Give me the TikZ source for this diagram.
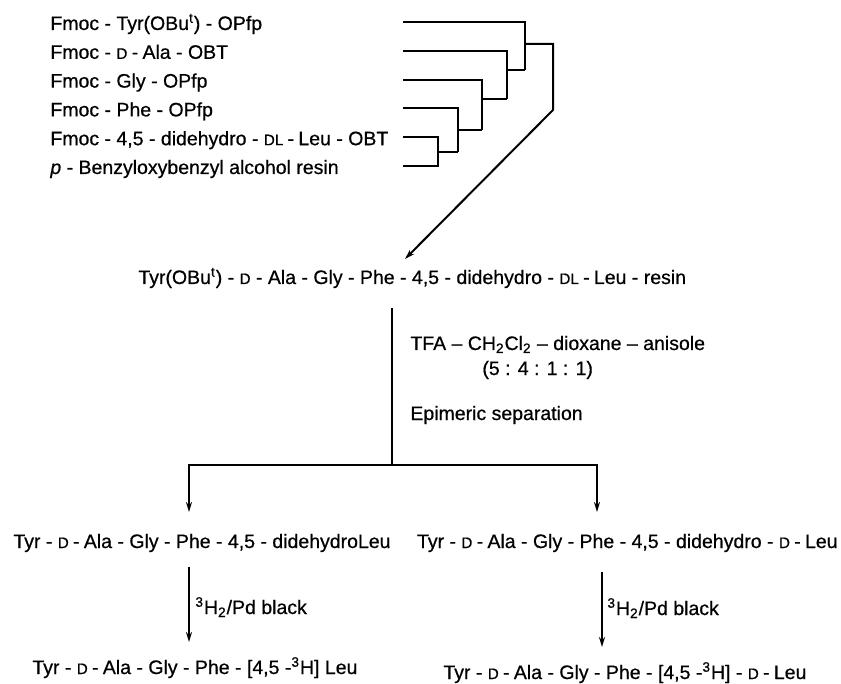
\documentclass[tikz,border=0pt]{standalone}
\usepackage{fontspec}
\setmainfont{Liberation Sans}[FakeBold=0.6]
\usetikzlibrary{arrows.meta}
\newcommand{\smc}[1]{{\fontsize{7.6}{9}\selectfont #1}}
\newcommand{\hy}{\hspace{0.22em}-\hspace{0.22em}}
\begin{document}
\begin{tikzpicture}[x=0.5pt,y=-0.5pt,
  font=\fontsize{9.75}{11}\selectfont,
  lbl/.style={inner sep=0pt, anchor=base west},
  lble/.style={inner sep=0pt, anchor=base east},
  ln/.style={line width=1pt},
  arr/.style={line width=1pt,-{Stealth[length=5pt,width=3pt]}}]
\useasboundingbox (0,0) rectangle (841,684);
% starting materials
\node[lbl] (r1) at (50,30) {Fmoc - Tyr(OBu\textsuperscript{t}) - OPfp};
\node[lbl] (r2) at (50,58.8) {Fmoc - \smc{D}\hy Ala - OBT};
\node[lbl] (r3) at (50,87.6) {Fmoc - Gly - OPfp};
\node[lbl] (r4) at (50,116.4) {Fmoc - Phe - OPfp};
\node[lbl] (r5) at (50,145.2) {Fmoc - 4,5 - didehydro - \smc{DL}\hy Leu - OBT};
\node[lbl] (r6) at (50,174) {\textit{p} - Benzyloxybenzyl alcohol resin};
\coordinate (s1) at (403,22);
\coordinate (s2) at (403,50.8);
\coordinate (s3) at (403,79.6);
\coordinate (s4) at (403,108.4);
\coordinate (s5) at (403,137.2);
\coordinate (s6) at (403,166);
\coordinate (j5) at (438,151.6);
\coordinate (j4) at (458,130);
\coordinate (j3) at (482,99);
\coordinate (j2) at (507,70);
\coordinate (j1) at (525,44);
\coordinate (k1) at (553,44);
\coordinate (k2) at (553,110);
\coordinate (tip) at (405,259);
\draw[ln] (s5) -| (j5) |- (s6);
\draw[ln] (j5) -- (j5 -| j4);
\draw[ln] (s4) -| (j4 |- j5);
\draw[ln] (j4) -- (j4 -| j3);
\draw[ln] (s3) -| (j3 |- j4);
\draw[ln] (j3) -- (j3 -| j2);
\draw[ln] (s2) -| (j2 |- j3);
\draw[ln] (j2) -- (j2 -| j1);
\draw[ln] (s1) -| (j1 |- j2);
\draw[arr] (j1) -- (k1) -- (k2) -- (tip);
% resin-bound peptide
\node[lbl] (resin) at (138,284) {Tyr(OBu\textsuperscript{t}) - \smc{D} - Ala - Gly - Phe - 4,5 - didehydro - \smc{DL}\hy Leu - resin};
\coordinate (v1) at (392,308);
\coordinate (v2) at (392,465);
\coordinate (bl) at (189,465);
\coordinate (br) at (597,465);
\node[lbl] (tfa) at (410,350) {TFA -- CH\textsubscript{2}Cl\textsubscript{2} -- dioxane -- anisole};
\node[lbl] (ratio) at (482,375) {(5 : 4 : 1 : 1)};
\node[lbl] (epi) at (410,420) {Epimeric separation};
\draw[ln] (v1) -- (v2);
\draw[arr] (v2) -- (bl) -- (189,512);
\draw[arr] (v2) -- (br) -- (597,512);
% products
\node[lbl] (pl) at (13,548) {Tyr - \smc{D}\hy Ala - Gly - Phe - 4,5 - didehydroLeu};
\node[lble] (pr) at (838,548) {Tyr - \smc{D}\hy Ala - Gly - Phe - 4,5 - didehydro - \smc{D}\hy Leu};
\coordinate (al1) at (189,567);
\coordinate (al2) at (189,642);
\coordinate (ar1) at (602,572);
\coordinate (ar2) at (602,647);
\draw[arr] (al1) -- (al2);
\draw[arr] (ar1) -- (ar2);
\node[lbl] (hl) at (195,614) {\textsuperscript{3}H\textsubscript{2}/Pd black};
\node[lbl] (hr) at (607,615) {\textsuperscript{3}H\textsubscript{2}/Pd black};
\node[lbl] (fl) at (32,674) {Tyr - \smc{D}\hy Ala - Gly - Phe - [4,5 -\textsuperscript{3}H] Leu};
\node[lbl] (fr) at (443,679) {Tyr - \smc{D}\hy Ala - Gly - Phe - [4,5 -\textsuperscript{3}H] - \smc{D}\hy Leu};
\end{tikzpicture}
\end{document}
